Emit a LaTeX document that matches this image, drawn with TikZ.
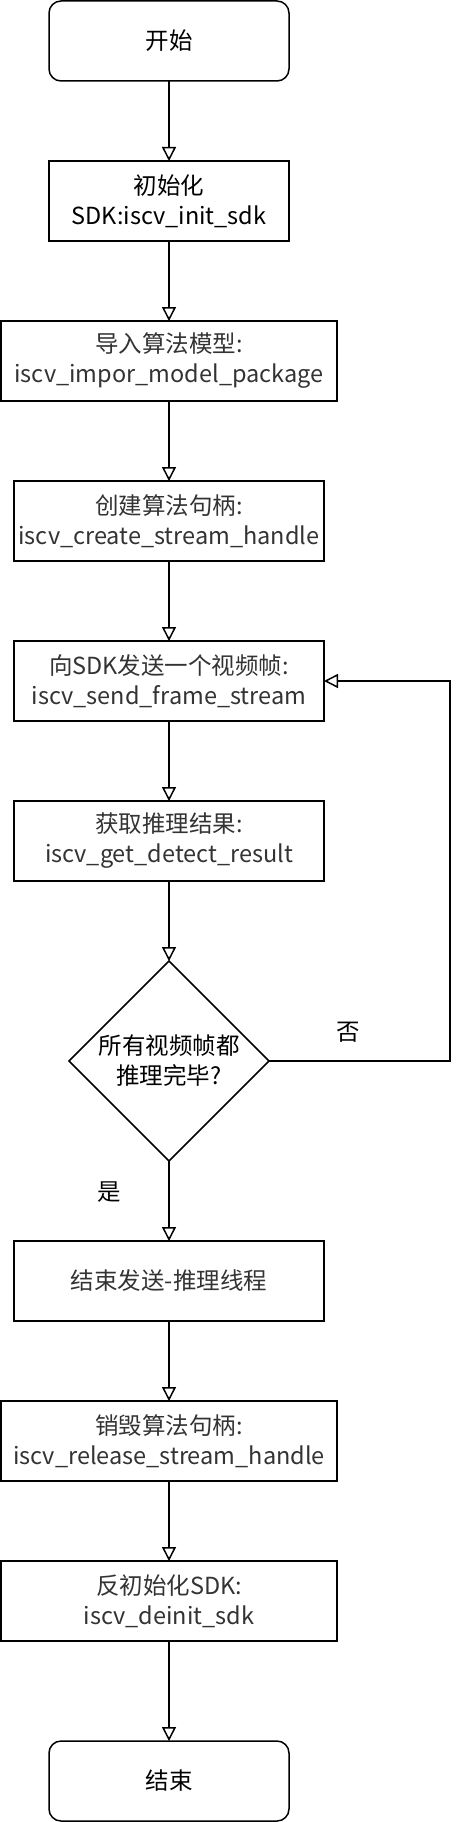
\documentclass[tikz,border=0pt]{standalone}
\usepackage{fontspec}
\setmainfont{Noto Sans CJK SC}
\usepackage{tikz}
\usetikzlibrary{shapes.geometric, arrows.meta, positioning}
\definecolor{stepgrey}{HTML}{333333}

\begin{document}
\begin{tikzpicture}[
  x=1pt, y=1pt,
  node distance = 80pt,
  every node/.style = {font=\fontsize{23.5}{30}\selectfont, align=center, inner sep=0pt, outer sep=0pt},
  terminal/.style   = {rectangle, rounded corners=12pt, draw, line width=1.5pt,
                       minimum width=240pt, minimum height=80pt},
  stepbox/.style    = {rectangle, draw, line width=1.5pt, minimum width=#1, minimum height=80pt,
                       text=stepgrey},
  stepbox/.default  = 310pt,
  decision/.style   = {diamond, draw, line width=1.5pt, minimum width=200pt, minimum height=200pt,
                       aspect=1},
  arrow/.style      = {-{Triangle[open, length=14pt, width=14pt]}, line width=1.5pt},
]
  \useasboundingbox (0,0) rectangle (466,-1822);

  \node[terminal] (start) at (169,-41) {开始};
  \node[stepbox=240pt, text=black, below=of start] (init) {初始化\\SDK:iscv\_init\_sdk};
  \node[stepbox=336pt, below=of init]    (import)  {导入算法模型:\\iscv\_impor\_model\_package};
  \node[stepbox, below=of import]        (create)  {创建算法句柄:\\iscv\_create\_stream\_handle};
  \node[stepbox, below=of create]        (send)    {向SDK发送一个视频帧:\\iscv\_send\_frame\_stream};
  \node[stepbox, below=of send]          (result)  {获取推理结果:\\iscv\_get\_detect\_result};
  \node[decision, below=of result]       (check)   {所有视频帧都\\推理完毕?};
  \node[stepbox, below=of check]         (stop)    {结束发送-推理线程};
  \node[stepbox=336pt, below=of stop]    (release) {销毁算法句柄:\\iscv\_release\_stream\_handle};
  \node[stepbox=336pt, below=of release] (deinit)  {反初始化SDK:\\iscv\_deinit\_sdk};
  \node[terminal, below=100pt of deinit] (end)     {结束};

  \node at (348,-1032) (nolabel)  {否};
  \node at (109,-1192) (yeslabel) {是};

  \draw[arrow] (start)   -- (init);
  \draw[arrow] (init)    -- (import);
  \draw[arrow] (import)  -- (create);
  \draw[arrow] (create)  -- (send);
  \draw[arrow] (send)    -- (result);
  \draw[arrow] (result)  -- (check);
  \draw[arrow] (check)   -- (stop);
  \draw[arrow] (stop)    -- (release);
  \draw[arrow] (release) -- (deinit);
  \draw[arrow] (deinit)  -- (end);
  \draw[arrow] (check.east) -- ++(181,0) |- (send.east);
\end{tikzpicture}
\end{document}
